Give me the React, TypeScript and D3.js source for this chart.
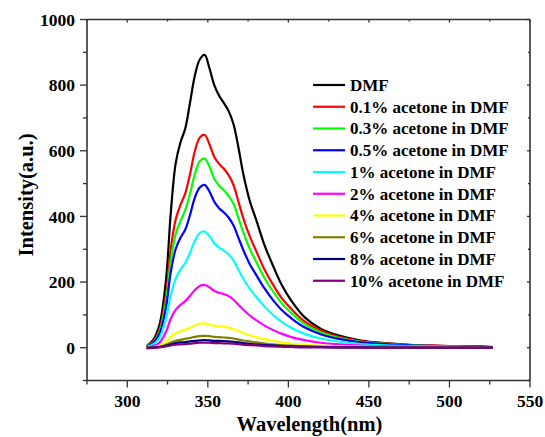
import React from "react";
import * as d3 from "d3";

// Emission wavelengths (nm) shared by every spectrum
const wavelengths = [
  312, 316, 320, 324, 327, 330, 333, 336, 339, 342, 345, 348, 351, 354, 357, 360,
  363, 366, 369, 372, 376, 380, 385, 390, 396, 402, 410, 420, 432, 445, 460, 475,
  490, 505, 520, 527,
];

const dmf = [
  5, 23, 70, 205, 410, 560, 625, 668, 748, 830, 878, 892, 852, 800, 768, 745,
  720, 680, 610, 530, 448, 390, 315, 255, 190, 142, 93, 58, 36, 22, 14, 9,
  6, 4, 3, 2,
];
const acetone01 = [
  4, 18, 55, 160, 300, 390, 435, 470, 530, 600, 640, 649, 620, 582, 560, 545,
  525, 495, 445, 395, 340, 295, 240, 196, 150, 117, 80, 52, 32, 20, 13, 8,
  6, 4, 3, 2,
];
const acetone03 = [
  4, 16, 48, 142, 265, 345, 385, 420, 470, 530, 568, 576, 552, 515, 494, 480,
  462, 438, 395, 352, 302, 262, 214, 175, 135, 105, 72, 47, 29, 18, 12, 8,
  5, 4, 3, 2,
];
const acetone05 = [
  3, 14, 42, 122, 230, 300, 335, 360, 405, 458, 488, 496, 476, 445, 425, 412,
  396, 372, 335, 298, 255, 222, 182, 148, 114, 89, 62, 41, 26, 16, 11, 7,
  5, 4, 3, 2,
];
const acetone1 = [
  2, 10, 30, 88, 160, 210, 238, 258, 290, 326, 349, 354, 340, 318, 305, 296,
  284, 265, 238, 210, 180, 155, 126, 102, 78, 60, 42, 28, 18, 11, 7, 5,
  4, 3, 2, 2,
];
const acetone2 = [
  1, 5, 15, 48, 88, 115, 130, 142, 158, 176, 188, 191, 184, 173, 167, 163,
  157, 146, 131, 116, 98, 84, 68, 55, 42, 32, 23, 15, 10, 6, 4, 3,
  2, 2, 1, 1,
];
const acetone4 = [
  0, 2, 6, 18, 33, 44, 50, 55, 61, 68, 73, 74, 71, 67, 65, 64,
  61, 57, 51, 45, 38, 32, 26, 21, 16, 12, 9, 6, 4, 3, 2, 1,
  1, 1, 1, 0,
];
const acetone6 = [
  0, 1, 3, 9, 16, 21, 24, 27, 30, 33, 35, 36, 35, 33, 32, 31,
  30, 28, 25, 22, 19, 16, 13, 10, 8, 6, 4, 3, 2, 1, 1, 1,
  0, 0, 0, 0,
];
const acetone8 = [
  0, 1, 2, 6, 10, 14, 16, 17, 19, 21, 22, 23, 22, 21, 21, 20,
  19, 18, 16, 14, 12, 10, 8, 7, 5, 4, 3, 2, 1, 1, 0, 0,
  0, 0, 0, 0,
];
const acetone10 = [
  -2, -1, 1, 4, 7, 9, 10, 11, 12, 14, 15, 15, 15, 14, 14, 13,
  13, 12, 11, 9, 8, 7, 5, 4, 3, 2, 1, 1, 0, 0, 0, 0,
  0, 0, 0, 0,
];

const seriesNames = [
  "DMF",
  "0.1% acetone in DMF",
  "0.3% acetone in DMF",
  "0.5% acetone in DMF",
  "1% acetone in DMF",
  "2% acetone in DMF",
  "4% acetone in DMF",
  "6% acetone in DMF",
  "8% acetone in DMF",
  "10% acetone in DMF",
];
const seriesValues = [
  dmf, acetone01, acetone03, acetone05, acetone1,
  acetone2, acetone4, acetone6, acetone8, acetone10,
];
const seriesColors = [
  "#000000", "#ff0000", "#00ff00", "#0000ff", "#00ffff",
  "#ff00ff", "#ffff00", "#808000", "#000080", "#800080",
];

const xMajorTicks = [300, 350, 400, 450, 500, 550];
const xMinorTicks = [275, 325, 375, 425, 475, 525];
const yMajorTicks = [0, 200, 400, 600, 800, 1000];
const yMinorTicks = [-100, 100, 300, 500, 700, 900];

const W = 545;
const H = 437;
const left = 87;
const right = 530;
const top = 19.5;
const bottom = 380.5;
const FONT = "Liberation Serif, Times New Roman, DejaVu Serif, serif";
const AXIS = "#333333";

const textStyle: React.CSSProperties = { fontFamily: FONT, fontWeight: 700 };

export default function App() {
  const x = d3.scaleLinear().domain([275, 550]).range([left, right]);
  const y = d3.scaleLinear().domain([-100, 1000]).range([bottom, top]);

  const line = d3
    .line<[number, number]>()
    .x((d) => x(d[0]))
    .y((d) => y(d[1]))
    .curve(d3.curveCatmullRom.alpha(0.5));

  const legendX = 313;
  const legendY0 = 85;
  const legendStep = 21.75;

  return (
    <svg
      width={W}
      height={H}
      style={{ position: "absolute", left: 0, top: 0, background: "#fff" }}
    >
      <rect x={0} y={0} width={W} height={H} fill="#fff" />

      {/* spectra */}
      <g fill="none" strokeWidth={2.2} strokeLinejoin="round">
        {seriesValues.map((vals, i) => (
          <path
            key={seriesNames[i]}
            d={line(wavelengths.map((w, j) => [w, vals[j]]) as [number, number][]) || ""}
            stroke={seriesColors[i]}
          />
        ))}
      </g>

      {/* frame */}
      <g stroke={AXIS} strokeWidth={1.6} fill="none">
        <line x1={left} y1={top} x2={right} y2={top} />
        <line x1={right} y1={top} x2={right} y2={bottom} />
        <line x1={left} y1={bottom} x2={right} y2={bottom} />
        <line x1={left} y1={top} x2={left} y2={bottom} />
      </g>

      {/* ticks: outward on bottom/left, inward on top/right */}
      <g stroke={AXIS} strokeWidth={1.3}>
        {xMajorTicks.map((t) => (
          <g key={"xM" + t}>
            <line x1={x(t)} x2={x(t)} y1={bottom} y2={bottom + 7} />
            <line x1={x(t)} x2={x(t)} y1={top} y2={top + 3} />
          </g>
        ))}
        {xMinorTicks.map((t) => (
          <g key={"xm" + t}>
            <line x1={x(t)} x2={x(t)} y1={bottom} y2={bottom + 4} />
            <line x1={x(t)} x2={x(t)} y1={top} y2={top + 2} />
          </g>
        ))}
        {yMajorTicks.map((t) => (
          <g key={"yM" + t}>
            <line x1={left - 7} x2={left} y1={y(t)} y2={y(t)} />
            <line x1={right - 3} x2={right} y1={y(t)} y2={y(t)} />
          </g>
        ))}
        {yMinorTicks.map((t) => (
          <g key={"ym" + t}>
            <line x1={left - 4} x2={left} y1={y(t)} y2={y(t)} />
            <line x1={right - 2} x2={right} y1={y(t)} y2={y(t)} />
          </g>
        ))}
      </g>

      {/* tick labels */}
      <g fill="#000">
        {xMajorTicks.map((t) => (
          <text key={"xl" + t} x={x(t)} y={407} textAnchor="middle" style={{ ...textStyle, fontSize: 17.5 }}>
            {t}
          </text>
        ))}
        {yMajorTicks.map((t) => (
          <text key={"yl" + t} x={75} y={y(t)} dy="0.35em" textAnchor="end" style={{ ...textStyle, fontSize: 17.5 }}>
            {t}
          </text>
        ))}
      </g>

      {/* axis titles */}
      <text
        x={(left + right) / 2 + 1}
        y={431}
        textAnchor="middle"
        fill="#000"
        style={{ ...textStyle, fontSize: 20.5 }}
      >
        Wavelength(nm)
      </text>
      <text
        transform="translate(33, 195) rotate(-90)"
        textAnchor="middle"
        fill="#000"
        style={{ ...textStyle, fontSize: 20.5 }}
      >
        Intensity(a.u.)
      </text>

      {/* legend */}
      <g>
        {seriesNames.map((name, i) => {
          const ly = legendY0 + i * legendStep;
          return (
            <g key={"lg" + name}>
              <line
                x1={legendX}
                x2={legendX + 32}
                y1={ly}
                y2={ly}
                stroke={seriesColors[i]}
                strokeWidth={2.2}
              />
              <text x={legendX + 37} y={ly} dy="0.35em" fill="#000" style={{ ...textStyle, fontSize: 17 }}>
                {name}
              </text>
            </g>
          );
        })}
      </g>
    </svg>
  );
}
